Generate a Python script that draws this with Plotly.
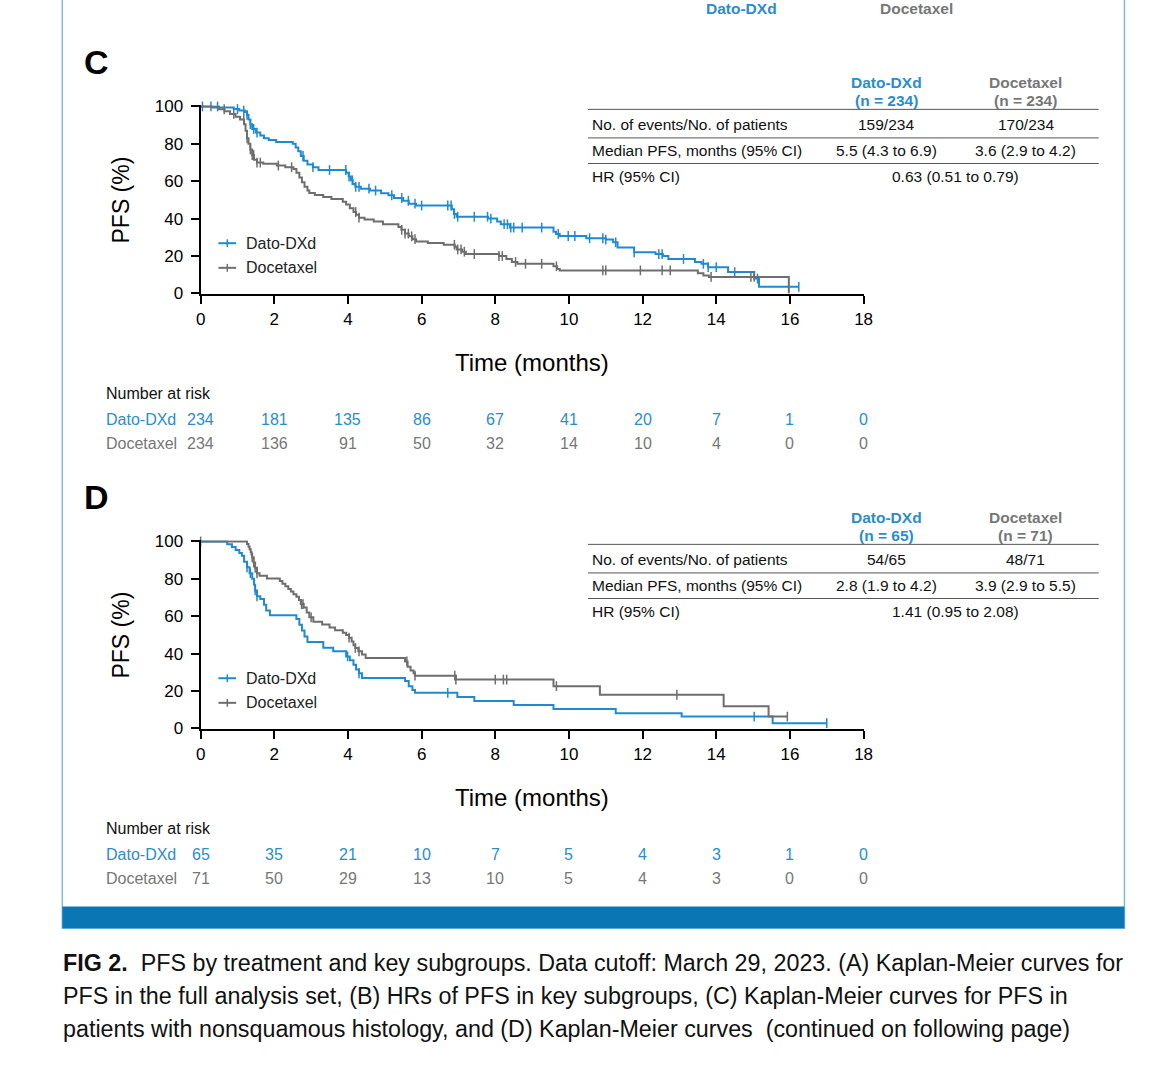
import numpy as np
import plotly.graph_objects as go

W, H = 1170, 1074
BLUE = "#1f8ad0"
GREY = "#6e6e6e"
BLUE_T = "#2a8dcc"
GREY_T = "#777777"
FONT = "Liberation Sans, Arial, sans-serif"

# ---------------- DATA ----------------
# Panel C (nonsquamous): step times (months) and PFS (%) after each step
c_dato_t = [0, 0.5, 0.9, 1.05, 1.2, 1.26, 1.3, 1.35, 1.4, 1.5, 1.62, 1.72, 1.85, 2.05, 2.5, 2.58, 2.65,
            2.72, 2.8, 2.9, 3.05, 3.2, 3.95, 4.02, 4.08, 4.13, 4.2, 4.35, 4.6, 4.9, 5.1, 5.25, 5.5, 5.65,
            5.85, 6.82, 6.88, 6.95, 7.8, 8.05, 8.15, 8.4, 9.58, 9.65, 9.75, 10.47, 11.0, 11.2, 11.32,
            11.77, 12.35, 12.55, 12.7, 13.42, 13.6, 13.78, 14.32, 15.03, 15.16, 16.24]
c_dato_s = [100, 99.5, 98.6, 97.8, 97, 95.5, 93, 90.5, 88, 86, 84.5, 83, 82, 81, 80, 78, 76,
            73.5, 71, 69, 67.5, 66, 64.5, 62.5, 60.5, 58.5, 57, 56, 55, 53.5, 52.5, 51, 49.5, 48,
            47, 45, 42.5, 41, 40, 38.5, 37, 35.2, 33, 31.8, 30.7, 29.5, 28.8, 27.3, 24.6,
            22, 21, 20, 18.4, 16.8, 15.8, 14, 11.4, 7.9, 3.5, 3.5]
c_dato_cens = [0.05, 0.28, 0.46, 1.0, 1.17, 1.26, 1.35, 1.44, 1.53, 2.78, 3.05, 3.5, 3.94, 4.03, 4.12,
               4.21, 4.3, 4.57, 4.75, 5.19, 5.46, 5.64, 5.82, 6.0, 6.71, 6.8, 6.89, 6.98, 7.43, 7.79,
               7.88, 8.24, 8.33, 8.42, 8.5, 8.73, 9.26, 9.71, 9.98, 10.16, 10.56, 10.92, 11.0, 11.27,
               11.77, 12.44, 12.53, 13.11, 13.65, 13.78, 14.0, 14.5, 15.12, 16.24]

c_doce_t = [0, 0.3, 0.5, 0.65, 0.8, 0.95, 1.07, 1.18, 1.22, 1.26, 1.3, 1.35, 1.4, 1.45, 1.53, 1.7, 2.07,
            2.3, 2.52, 2.6, 2.68, 2.75, 2.82, 2.9, 2.95, 3.1, 3.33, 3.55, 3.86, 3.95, 4.05, 4.15, 4.22,
            4.3, 4.45, 4.7, 4.95, 5.37, 5.45, 5.55, 5.65, 5.75, 5.85, 6.17, 6.6, 6.9, 6.95, 7.1, 7.2,
            8.1, 8.3, 8.45, 8.6, 9.58, 9.68, 9.75, 13.5, 13.65, 13.8, 15.97]
c_doce_s = [100, 99.5, 98.5, 97.4, 96, 94.5, 93, 90.5, 87, 83, 80, 77, 74, 71.5, 70, 69.4, 68.4,
            67.5, 66.5, 64.5, 62, 59.5, 57, 55, 53.7, 52.6, 51.6, 50.5, 49, 47.5, 45.5, 43.5, 42,
            40.5, 39.5, 38.5, 37, 35.5, 34, 32, 30.5, 29, 27.8, 27, 26, 25, 23.5, 22.3, 21,
            20, 18.4, 16.8, 15.8, 14.5, 13, 12.3, 10.8, 9.5, 8.8, 0]
c_doce_cens = [0.64, 0.9, 1.17, 1.26, 1.35, 1.4, 1.44, 1.53, 1.62, 2.11, 2.47, 4.21, 4.3, 5.46, 5.55,
               5.64, 5.73, 5.82, 6.89, 6.98, 7.07, 7.16, 7.43, 8.1, 8.19, 8.55, 8.82, 9.26, 9.66,
               10.92, 11.0, 11.94, 12.53, 12.75, 13.86, 14.94, 15.03]

# Panel D (squamous)
d_dato_t = [0, 0.72, 0.85, 0.95, 1.05, 1.12, 1.18, 1.26, 1.33, 1.4, 1.45, 1.48, 1.53, 1.62, 1.72, 1.78,
            1.88, 2.6, 2.68, 2.75, 2.82, 2.9, 3.33, 3.6, 3.95, 4.05, 4.15, 4.22, 4.3, 4.38, 5.55, 5.65,
            5.75, 5.82, 6.97, 7.43, 8.5, 9.58, 11.27, 13.06, 15.53, 17.0]
d_dato_s = [100, 98.5, 97, 95.4, 93.8, 92.3, 89.2, 86.2, 83, 80, 76.9, 73.8, 70.7, 69.2, 66.1, 63,
            60.5, 58.5, 55.4, 52.3, 49.2, 46.2, 43.1, 41.2, 38.5, 36.4, 34, 31.5, 29.5, 27, 25.3, 22.5,
            20.5, 19, 16.8, 14.7, 12.5, 10.4, 8.1, 6.3, 2.8, 2.8]
d_dato_cens = [0.0, 1.26, 1.35, 1.48, 1.53, 3.99, 4.3, 6.71, 15.03, 17.0]

d_doce_t = [0, 1.26, 1.3, 1.33, 1.36, 1.38, 1.4, 1.44, 1.48, 1.53, 1.6, 1.8, 2.15, 2.22, 2.3, 2.38, 2.45,
            2.52, 2.6, 2.67, 2.72, 2.8, 2.88, 2.95, 3.06, 3.3, 3.5, 3.65, 3.86, 3.95, 4.03, 4.1, 4.15,
            4.2, 4.28, 4.38, 4.48, 5.55, 5.62, 5.7, 5.78, 5.82, 6.93, 9.58, 10.84, 14.2, 15.42, 15.93]
d_doce_s = [100, 98.6, 97.2, 95.8, 94.4, 93, 91.5, 88.7, 85.9, 83, 81.6, 80.2, 78.8, 77.4, 76, 74.6, 73.2,
            71.8, 70.4, 68.7, 66.5, 64.7, 62, 59.4, 57, 55.6, 54, 52.5, 51.2, 50, 48.5, 46.5, 44.5,
            43, 41.2, 39.5, 37.7, 35.8, 33, 31, 29.5, 28.2, 26.1, 22.6, 18, 11.9, 6.3, 6.3]
d_doce_cens = [1.4, 1.44, 1.48, 1.53, 2.74, 2.78, 3.0, 4.03, 4.2, 4.3, 5.6, 5.82, 6.9, 6.93, 8.0, 8.22,
               8.31, 9.66, 12.93, 15.93]

risk_times = [0, 2, 4, 6, 8, 10, 12, 14, 16, 18]
c_risk_dato = [234, 181, 135, 86, 67, 41, 20, 7, 1, 0]
c_risk_doce = [234, 136, 91, 50, 32, 14, 10, 4, 0, 0]
d_risk_dato = [65, 35, 21, 10, 7, 5, 4, 3, 1, 0]
d_risk_doce = [71, 50, 29, 13, 10, 5, 4, 3, 0, 0]

row_labels = ["No. of events/No. of patients", "Median PFS, months (95% CI)", "HR (95% CI)"]
c_hdr = ["(n = 234)", "(n = 234)"]
c_events = ["159/234", "170/234"]
c_median = ["5.5 (4.3 to 6.9)", "3.6 (2.9 to 4.2)"]
c_hr = "0.63 (0.51 to 0.79)"
d_hdr = ["(n = 65)", "(n = 71)"]
d_events = ["54/65", "48/71"]
d_median = ["2.8 (1.9 to 4.2)", "3.9 (2.9 to 5.5)"]
d_hr = "1.41 (0.95 to 2.08)"

caption_lines = [
    "<b>FIG 2.</b>  PFS by treatment and key subgroups. Data cutoff: March 29, 2023. (A) Kaplan-Meier curves for",
    "PFS in the full analysis set, (B) HRs of PFS in key subgroups, (C) Kaplan-Meier curves for PFS in",
    "patients with nonsquamous histology, and (D) Kaplan-Meier curves  (continued on following page)",
]

# ---------------- helpers ----------------
def PY(p):
    return 1 - p / H


def PX(p):
    return p / W


fig = go.Figure()


def add_km(t, s, cens, color, xa, ya):
    fig.add_trace(go.Scatter(x=t, y=s, mode="lines", line=dict(color=color, width=2, shape="hv"),
                             xaxis=xa, yaxis=ya, showlegend=False, hoverinfo="skip"))
    ta = np.array(t, dtype=float)
    sa = np.array(s, dtype=float)
    idx = np.clip(np.searchsorted(ta, np.array(cens), side="right") - 1, 0, len(sa) - 1)
    fig.add_trace(go.Scatter(x=cens, y=sa[idx], mode="markers",
                             marker=dict(symbol="line-ns", size=7, line=dict(color=color, width=1.5)),
                             xaxis=xa, yaxis=ya, showlegend=False, cliponaxis=False, hoverinfo="skip"))


add_km(c_dato_t, c_dato_s, c_dato_cens, BLUE, "x", "y")
add_km(c_doce_t, c_doce_s, c_doce_cens, GREY, "x", "y")
add_km(d_dato_t, d_dato_s, d_dato_cens, BLUE, "x2", "y2")
add_km(d_doce_t, d_doce_s, d_doce_cens, GREY, "x2", "y2")

axis_common = dict(showline=True, linewidth=2, linecolor="black", ticks="outside", ticklen=8,
                   tickwidth=2, tickcolor="black", showgrid=False, zeroline=False,
                   tickfont=dict(family=FONT, size=17, color="black"))
xdom = [PX(198), PX(869)]
fig.update_layout(
    xaxis=dict(domain=xdom, range=[0, 18], tickvals=risk_times, anchor="y", **axis_common),
    yaxis=dict(domain=[PY(291.1), PY(98.9)], range=[-0.6, 100.6], tickvals=[0, 20, 40, 60, 80, 100],
               anchor="x", ticklabelstandoff=4, **axis_common),
    xaxis2=dict(domain=xdom, range=[0, 18], tickvals=risk_times, anchor="y2", **axis_common),
    yaxis2=dict(domain=[PY(733.1), PY(540.9)], range=[-0.6, 100.6], tickvals=[0, 20, 40, 60, 80, 100],
                anchor="x2", ticklabelstandoff=4, **axis_common),
)

ann = []
shapes = []


def text(x, y, s, size=15.5, color="black", xanchor="center", xref="paper", bold=False, family=FONT, **kw):
    ann.append(dict(x=x if xref != "paper" else PX(x), y=PY(y), xref=xref, yref="paper", text=s,
                    showarrow=False, xanchor=xanchor, yanchor="middle",
                    font=dict(family=family, size=size, color=color), **kw))


def hline(x0, x1, y, color="#555555", width=1):
    shapes.append(dict(type="line", xref="paper", yref="paper", x0=PX(x0), x1=PX(x1), y0=PY(y), y1=PY(y),
                       line=dict(color=color, width=width)))


# frame and bottom bar
shapes.append(dict(type="rect", xref="paper", yref="paper", x0=PX(58), x1=PX(1133), y0=PY(935), y1=PY(-10),
                   line=dict(color="#7fbbdc", width=1.5), fillcolor="rgba(0,0,0,0)", layer="below"))
shapes.append(dict(type="rect", xref="paper", yref="paper", x0=PX(58), x1=PX(1133), y0=PY(935), y1=PY(913),
                   line=dict(width=0), fillcolor="#0a76b4"))

# partial header from previous panel
ann.append(dict(x=PX(745), y=PY(11), xref="paper", yref="paper", text="<b>Dato-DXd</b>", showarrow=False,
                xanchor="center", yanchor="bottom", font=dict(family=FONT, size=15.5, color=BLUE_T)))
ann.append(dict(x=PX(923), y=PY(11), xref="paper", yref="paper", text="<b>Docetaxel</b>", showarrow=False,
                xanchor="center", yanchor="bottom", font=dict(family=FONT, size=15.5, color=GREY_T)))


def panel(letter, top, hdr, events, median, hr, risk_dato, risk_doce, xref):
    # top = pixel y of the "100" tick of this panel
    o = top - 100
    text(78, 55 + o, "<b>%s</b>" % letter, size=34, xanchor="left")
    # stats table
    text(892, 76 + o, "<b>Dato-DXd</b>", color=BLUE_T)
    text(892, 94 + o, "<b>%s</b>" % hdr[0], color=BLUE_T)
    text(1033, 76 + o, "<b>Docetaxel</b>", color=GREY_T)
    text(1033, 94 + o, "<b>%s</b>" % hdr[1], color=GREY_T)
    hline(590, 1107, 103 + o)
    hline(590, 1107, 132 + o)
    hline(590, 1107, 158 + o)
    for i, yy in enumerate([118, 145, 171]):
        text(592, yy + o, row_labels[i], xanchor="left", color="#111111")
    text(892, 118 + o, events[0], color="#111111")
    text(1033, 118 + o, events[1], color="#111111")
    text(892, 145 + o, median[0], color="#111111")
    text(1033, 145 + o, median[1], color="#111111")
    text(962, 171 + o, hr, color="#111111")
    # legend keys
    for yy, col, lab in [(239 + o, BLUE, "Dato-DXd"), (264 + o, GREY, "Docetaxel")]:
        hline(216, 234, yy, color=col, width=2)
        shapes.append(dict(type="line", xref="paper", yref="paper", x0=PX(225), x1=PX(225), y0=PY(yy - 4),
                           y1=PY(yy + 4), line=dict(color=col, width=1.5)))
        text(242, yy, lab, size=16, xanchor="left", color="#222222")
    # axis titles
    ann.append(dict(x=PX(117), y=PY(195 + o), xref="paper", yref="paper", text="PFS (%)", textangle=-90,
                    showarrow=False, xanchor="center", yanchor="middle",
                    font=dict(family=FONT, size=23, color="black")))
    text(533, 360 + o, "Time (months)", size=24)
    # number at risk
    text(100, 392 + o, "Number at risk", size=16, xanchor="left", color="#111111")
    text(100, 418 + o, "Dato-DXd", size=16, xanchor="left", color=BLUE_T)
    text(100, 443 + o, "Docetaxel", size=16, xanchor="left", color=GREY_T)
    for tt, a, b in zip(risk_times, risk_dato, risk_doce):
        text(tt, 418 + o, str(a), size=16, xref=xref, color=BLUE_T)
        text(tt, 443 + o, str(b), size=16, xref=xref, color=GREY_T)


panel("C", 100, c_hdr, c_events, c_median, c_hr, c_risk_dato, c_risk_doce, "x")
panel("D", 542, d_hdr, d_events, d_median, d_hr, d_risk_dato, d_risk_doce, "x2")

for yy, line in zip([970, 1004, 1037], caption_lines):
    text(57, yy, line, size=23.3, xanchor="left", color="#111111")

fig.update_layout(width=W, height=H, margin=dict(l=0, r=0, t=0, b=0), paper_bgcolor="white",
                  plot_bgcolor="white", showlegend=False, annotations=ann, shapes=shapes,
                  font=dict(family=FONT))
fig.write_html("out.html", config={"responsive": False, "displayModeBar": False},
               post_script="document.body.style.margin='0';document.body.style.overflow='hidden';")
